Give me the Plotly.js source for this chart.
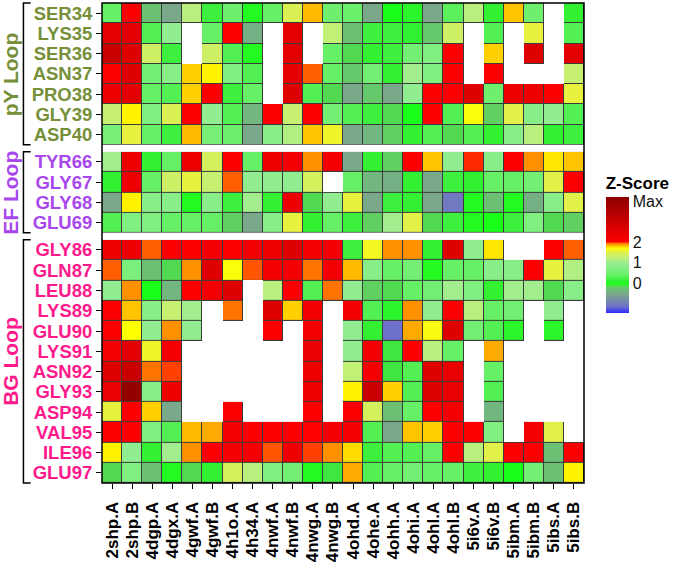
<!DOCTYPE html>
<html>
<head>
<meta charset="utf-8">
<script src="https://cdn.plot.ly/plotly-3.0.1.min.js"></script>
<style>
  html, body { margin: 0; padding: 0; background: #fff; }
  #chart { width: 677px; height: 563px; }
</style>
</head>
<body>
<div id="chart"></div>
<script>
// Structures (columns)
const structures = ['2shp.A', '2shp.B', '4dgp.A', '4dgx.A', '4gwf.A', '4gwf.B', '4h1o.A', '4h34.A',
    '4nwf.A', '4nwf.B', '4nwg.A', '4nwg.B', '4ohd.A', '4ohe.A', '4ohh.A', '4ohi.A',
    '4ohl.A', '4ohl.B', '5i6v.A', '5i6v.B', '5ibm.A', '5ibm.B', '5ibs.A', '5ibs.B'];

// pY loop
const pyResidues = ['SER34', 'LYS35', 'SER36', 'ASN37', 'PRO38', 'GLY39', 'ASP40'];
const pyScores = [
    [0.4, 2.1, -0.25, -0.5, 1.2, 0.2, 0.5, 0.05, 0.4, 1.45, 1.82, 0.5, 0.45, -0.5, 0.0, 0.1, -0.5, 0.35, 1.2, 0.15, 1.8, 0.5, null, 0.15],
    [2.5, 2.5, 0.3, 0.9, null, 0.4, 2.05, -0.4, null, 2.5, null, 1.25, -0.25, 0.2, 0.2, -0.05, -0.2, 1.35, null, 0.3, null, 1.55, null, 0.3],
    [3.0, 2.6, 1.35, 0.2, null, 1.35, 0.3, 0.05, null, 2.5, null, 0.4, -0.12, 0.15, 0.2, 0.55, 0.7, 2.1, null, 1.78, null, 2.6, null, 2.5],
    [2.1, 2.6, 0.55, 0.8, 1.78, 1.72, 0.7, 0.3, null, 2.5, 1.95, 0.4, -0.2, 0.55, 0.15, 1.05, 0.7, 2.1, null, 2.1, null, null, null, 1.3],
    [2.3, 2.5, 0.4, 0.3, 1.78, 2.05, 0.2, 0.4, null, 2.6, 0.3, -0.12, -0.5, -0.2, -0.5, 0.9, 2.1, 2.1, 2.6, 0.5, 2.3, 2.3, 2.1, 1.55],
    [1.3, 1.72, 0.7, 1.45, 2.1, 0.9, 0.3, -0.33, 2.1, 1.3, 2.1, 0.55, 0.3, 0.2, -0.12, 0.0, 2.1, 0.3, 1.68, -0.15, 1.5, 0.8, 0.9, 0.3],
    [0.6, 1.55, 0.4, 0.2, 1.82, 0.6, 0.5, -0.5, 0.8, 1.15, 1.8, 1.6, -0.5, -0.33, -0.15, 0.15, 0.3, -0.12, 0.3, 0.15, 0.8, 1.2, 0.15, 0.2]
];

// EF loop
const efResidues = ['TYR66', 'GLY67', 'GLY68', 'GLU69'];
const efScores = [
    [1.05, 2.3, 0.15, 0.4, 2.3, 1.4, 2.05, 0.4, 2.3, 2.2, 1.9, 2.2, -0.5, 0.15, -0.15, 2.05, 1.8, 0.9, 1.98, 0.8, 2.05, 1.9, 1.74, 1.8],
    [0.15, 2.3, 0.4, 1.35, 1.55, 1.3, 1.95, 0.9, 0.9, 0.9, 1.4, null, 0.4, -0.33, -0.4, 0.15, -0.5, 0.2, 0.15, 0.4, 0.4, 0.55, 1.5, 2.1],
    [-0.5, 1.72, 0.8, 0.8, 0.05, 0.8, 0.2, 1.05, 0.15, 2.3, -0.12, 0.9, 1.55, -0.5, 0.2, 0.15, -0.5, -1.0, 0.05, -0.25, 0.05, -0.4, 0.8, 1.5],
    [0.3, 0.7, 0.7, 0.4, 0.4, 0.4, -0.15, -0.5, 0.8, 1.55, 0.15, 0.4, 0.2, -0.15, 1.05, 1.5, -0.12, 0.2, 0.05, 0.0, 0.2, 0.7, -0.12, -0.15]
];

// BG loop
const bgResidues = ['GLY86', 'GLN87', 'LEU88', 'LYS89', 'GLU90', 'LYS91', 'ASN92', 'GLY93', 'ASP94', 'VAL95', 'ILE96', 'GLU97'];
const bgScores = [
    [2.3, 2.3, 1.95, 2.1, 2.1, 2.2, 2.1, 2.25, 2.3, 2.6, 2.25, 2.2, 0.2, 1.62, 1.9, 1.9, 0.15, 2.6, 0.9, 1.74, null, null, 2.1, 1.95],
    [1.95, 0.65, -0.25, -0.12, 1.9, 2.6, 1.68, 1.96, 2.2, 2.2, 1.93, 2.2, 1.82, 0.8, 0.4, 0.55, 0.05, 0.4, 0.4, 0.8, 0.8, 2.1, 1.55, 1.15],
    [0.9, 1.9, 0.0, -0.33, 2.1, 2.2, 2.6, null, 1.2, 2.1, 0.3, 1.93, 0.9, -0.15, -0.12, 0.4, 0.55, 1.05, 0.7, 0.15, 1.05, 1.05, -0.12, 0.8],
    [2.1, 1.8, 0.8, 1.3, 1.05, null, 1.93, null, 2.6, 1.78, 2.2, null, 2.2, 0.3, 0.1, 1.9, 0.9, 2.1, 1.2, 0.4, 0.55, null, 0.9, null],
    [2.1, 1.7, 0.9, 1.9, 0.9, null, null, null, 2.1, null, 2.2, null, 0.9, 0.15, -1.1, 1.85, 1.66, 2.6, 0.55, 0.3, 0.1, null, 0.1, null],
    [2.2, 2.5, 1.6, 2.2, null, null, null, null, null, null, 2.4, null, 0.9, 2.2, -0.08, 2.1, 1.2, 0.4, null, 1.85, null, null, null, null],
    [2.6, 3.0, 1.93, 1.97, null, null, null, null, null, null, 2.3, null, 1.25, 2.2, -0.08, 0.3, 2.6, 2.4, null, 0.4, null, null, null, null],
    [2.4, 4.0, 0.8, 2.3, null, null, null, null, null, null, 2.3, null, 1.72, 3.0, 1.78, 0.3, 2.6, 2.4, null, 0.3, null, null, null, null],
    [1.55, 2.1, 1.78, -0.5, null, null, 2.1, null, null, null, 2.1, null, 2.1, 1.4, -0.25, 0.4, 2.1, 2.2, null, -0.33, null, null, null, null],
    [2.1, 2.1, 0.7, 0.3, 1.82, 1.85, 2.2, 2.1, 2.1, 2.1, 2.0, 2.2, 2.2, 0.3, -0.5, 1.8, 1.78, 2.1, 2.05, 0.7, null, 2.2, 1.5, null],
    [1.72, 0.9, 0.15, 1.05, 1.9, 2.1, 2.2, 2.2, 1.96, 2.3, 1.97, 1.9, 1.76, 0.2, 0.3, 0.3, 0.4, 2.1, 1.2, 1.5, 2.1, 2.1, -0.25, 2.1],
    [-0.12, 0.7, -0.25, 0.05, -0.12, 0.15, 1.4, 1.2, 0.7, 0.55, 0.05, -0.08, 1.85, 0.3, 0.4, 0.55, 0.4, 0.4, 0.2, 0.15, 0.0, 0.55, -0.25, 1.72]
];

const zMin = -1.4;
const zMax = 4.15;

// colour stops in z-score units, turned into a 0..1 colorscale below
const stops = [
    [-1.4, '#2a2aff'], [-1.1, '#6f6fcc'], [-0.5, '#7aa88a'], [-0.3, '#70b87e'],
    [-0.15, '#60d060'], [0.0, '#1aff1a'], [0.15, '#33f033'], [0.4, '#66f066'],
    [0.9, '#90ee90'], [1.05, '#a2ee8e'], [1.3, '#c8f070'], [1.55, '#e8f040'],
    [1.7, '#ffff00'], [1.8, '#ffc400'], [1.9, '#ff9000'], [1.96, '#ff5500'],
    [2.0, '#ff0000'], [4.15, '#8b0000']
];
const colorscale = stops.map(s => [(s[0] - zMin) / (zMax - zMin), s[1]]);

const FONT = 'Liberation Sans, Arial, Helvetica, sans-serif';
const colors = { py: '#76903a', ef: '#a847ee', bg: '#ff1a8c' };

// panel heights follow the row counts
const H = 480, gap = 7;
const rowH = (H - 2 * gap) / 23;
const bgDom = [0, 12 * rowH / H];
const efDom = [(12 * rowH + gap) / H, (16 * rowH + gap) / H];
const pyDom = [(16 * rowH + 2 * gap) / H, 1];

const panels = [
    { rows: bgResidues, z: bgScores, axis: 'y', key: 'yaxis', dom: bgDom, color: colors.bg, name: 'BG Loop' },
    { rows: efResidues, z: efScores, axis: 'y2', key: 'yaxis2', dom: efDom, color: colors.ef, name: 'EF Loop' },
    { rows: pyResidues, z: pyScores, axis: 'y3', key: 'yaxis3', dom: pyDom, color: colors.py, name: 'pY Loop' }
];

const traces = [];
panels.forEach(p => {
    // dark cells underneath, showing through the gaps as cell borders
    traces.push({
        type: 'heatmap', x: structures, y: p.rows,
        z: p.z.map(r => r.map(v => v === null ? null : 1)),
        colorscale: [[0, '#3a3a3a'], [1, '#3a3a3a']], zmin: 0, zmax: 2,
        showscale: false, hoverinfo: 'skip', xaxis: 'x', yaxis: p.axis
    });
    traces.push({
        type: 'heatmap', x: structures, y: p.rows, z: p.z,
        coloraxis: 'coloraxis', xgap: 1, ygap: 1,
        xaxis: 'x', yaxis: p.axis,
        hovertemplate: '%{y} / %{x}<br>Z = %{z}<extra></extra>'
    });
});

const layout = {
    width: 677, height: 563,
    margin: { l: 102, r: 93, t: 3, b: 80, autoexpand: false },
    paper_bgcolor: 'white', plot_bgcolor: 'white',
    font: { family: FONT, color: '#000' },
    showlegend: false,
    xaxis: {
        domain: [0, 1], anchor: 'y', type: 'category',
        tickmode: 'array', tickvals: structures, ticktext: structures,
        tickangle: -90, ticks: 'outside', ticklen: 5, tickcolor: '#000',
        ticklabelstandoff: 6,
        tickfont: { family: FONT, size: 17, weight: 'bold', color: '#000' },
        showgrid: false, zeroline: false, showline: false
    },
    coloraxis: {
        cmin: zMin, cmax: zMax, colorscale: colorscale,
        colorbar: {
            x: 1.045, xanchor: 'left', xpad: 0, y: 0.5, yanchor: 'middle',
            len: 0.333, lenmode: 'fraction', thickness: 23,
            outlinewidth: 0, ticks: '', ticklabelpad: 8,
            tickvals: [0, 1, 2, 3.95], ticktext: ['0', '1', '2', 'Max'],
            tickfont: { family: FONT, size: 16, color: '#111' },
            title: { text: 'Z-Score', side: 'top', font: { family: FONT, size: 17, weight: 'bold', color: '#000' } }
        }
    },
    shapes: [],
    annotations: []
};

panels.forEach(p => {
    layout[p.key] = {
        domain: p.dom, anchor: 'x', type: 'category', autorange: 'reversed',
        tickmode: 'array', tickvals: p.rows, ticktext: p.rows,
        ticks: 'outside', ticklen: 5, tickcolor: '#000',
        tickfont: { family: FONT, size: 18.5, weight: 'bold', color: p.color },
        showgrid: false, zeroline: false, showline: false
    };
    // bracket at the left of each group
    const bx = -0.163, sx = -0.148;
    layout.shapes.push({
        type: 'path', xref: 'paper', yref: 'paper',
        path: `M ${sx},${p.dom[1]} L ${bx},${p.dom[1]} L ${bx},${p.dom[0]} L ${sx},${p.dom[0]}`,
        line: { color: '#000', width: 1.5 }
    });
    layout.annotations.push({
        text: p.name, xref: 'paper', yref: 'paper',
        x: -0.19, y: (p.dom[0] + p.dom[1]) / 2, xanchor: 'center', yanchor: 'middle',
        textangle: -90, showarrow: false,
        font: { family: FONT, size: 21, weight: 'bold', color: p.color }
    });
});

// frame round the whole heatmap
layout.shapes.push({
    type: 'rect', xref: 'paper', yref: 'paper', x0: 0, x1: 1, y0: 0, y1: 1,
    line: { color: '#000', width: 1.5 }
});

Plotly.newPlot('chart', traces, layout, { displayModeBar: false, responsive: false });
</script>
</body>
</html>
